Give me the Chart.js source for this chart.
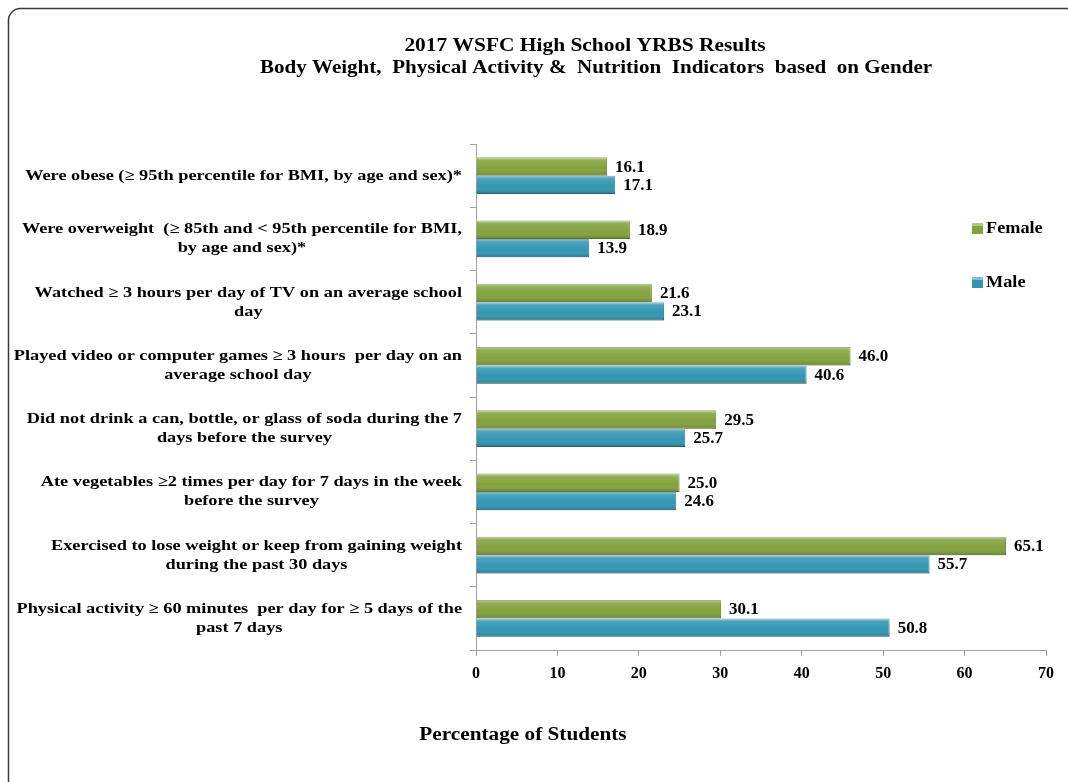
<!DOCTYPE html>
<html>
<head>
<meta charset="utf-8">
<script src="https://cdn.jsdelivr.net/npm/chart.js@4"></script>
<style>
  html, body { margin: 0; padding: 0; background: #fff; }
  #wrap { width: 1068px; height: 782px; }
</style>
</head>
<body>
<div id="wrap"><canvas id="yrbs"></canvas></div>
<script>
var categories = [
  ["Were obese (\u2265 95th percentile for BMI, by age and sex)*"],
  ["Were overweight  (\u2265 85th and < 95th percentile for BMI,", "by age and sex)*"],
  ["Watched \u2265 3 hours per day of TV on an average school", "day"],
  ["Played video or computer games \u2265 3 hours  per day on an", "average school day"],
  ["Did not drink a can, bottle, or glass of soda during the 7", "days before the survey"],
  ["Ate vegetables \u22652 times per day for 7 days in the week", "before the survey"],
  ["Exercised to lose weight or keep from gaining weight", "during the past 30 days"],
  ["Physical activity \u2265 60 minutes  per day for \u2265 5 days of the", "past 7 days"]
];
var female = [16.1, 18.9, 21.6, 46.0, 29.5, 25.0, 65.1, 30.1];
var male = [17.1, 13.9, 23.1, 40.6, 25.7, 24.6, 55.7, 50.8];
var xTicks = [0, 10, 20, 30, 40, 50, 60, 70];

var titleLines = ["2017 WSFC High School YRBS Results",
  "Body Weight,  Physical Activity &  Nutrition  Indicators  based  on Gender"];
var axisTitle = "Percentage of Students";

var serif = "'Liberation Serif', 'Times New Roman', serif";

var ctx = document.getElementById("yrbs").getContext('2d');

// the original text is a little wider than Times, so stretch it sideways
function wideText(c, text, x, y, sx) {
  c.save();
  c.translate(x, y);
  c.scale(sx, 1);
  c.fillText(text, 0, 0);
  c.restore();
}

// frame, titles, category labels, legend and the shaded look of the bars
var decor = {
  id: 'decor',
  beforeDraw: function(chart) {
    var c = chart.ctx;
    c.save();
    c.strokeStyle = '#3a3a3a';
    c.lineWidth = 1.5;
    c.beginPath();
    c.roundRect(8.5, 8.5, 1080, 800, 12);
    c.stroke();
    c.restore();
  },
  afterDatasetsDraw: function(chart) {
    var c = chart.ctx;
    c.save();
    chart.data.datasets.forEach(function(ds, i) {
      chart.getDatasetMeta(i).data.forEach(function(bar, j) {
        var p = bar.getProps(['x', 'y', 'base', 'height'], true);
        var top = p.y - p.height / 2, h = p.height;
        var g = c.createLinearGradient(0, top, 0, top + h);
        g.addColorStop(0, 'rgba(255,255,255,0.45)');
        g.addColorStop(0.18, 'rgba(255,255,255,0.12)');
        g.addColorStop(0.6, 'rgba(255,255,255,0)');
        g.addColorStop(1, 'rgba(0,0,0,0.22)');
        c.fillStyle = g;
        c.fillRect(p.base, top, p.x - p.base, h);
        // value label
        c.fillStyle = '#000';
        c.font = 'bold 16px ' + serif;
        c.textAlign = 'left';
        c.textBaseline = 'middle';
        wideText(c, ds.data[j].toFixed(1), p.x + 8, p.y + 1, 1.06);
      });
    });
    c.restore();
  },
  afterDraw: function(chart) {
    var c = chart.ctx;
    c.save();
    c.fillStyle = '#000';
    c.textBaseline = 'middle';

    // category labels: block right-aligned, lines centred within the block
    var ys = chart.scales.y;
    var sx = 1.22;
    c.font = 'bold 15px ' + serif;
    c.textAlign = 'center';
    chart.data.labels.forEach(function(lines, i) {
      var y = ys.getPixelForTick(i);
      var w = sx * Math.max.apply(null, lines.map(function(l) { return c.measureText(l).width; }));
      var cx = 462 - w / 2;
      var y0 = y - (lines.length - 1) * 19 / 2;
      lines.forEach(function(l, k) { wideText(c, l, cx, y0 + k * 19, sx); });
    });

    c.font = 'bold 18px ' + serif;
    wideText(c, titleLines[0], 585, 46, 1.19);
    wideText(c, titleLines[1], 596, 68, 1.17);
    wideText(c, axisTitle, 523, 735, 1.18);

    // legend
    c.font = 'bold 16px ' + serif;
    c.textAlign = 'left';
    chart.data.datasets.forEach(function(ds, i) {
      var y = 228 + i * 54;
      c.fillStyle = ds.backgroundColor;
      c.fillRect(972, y - 5, 11, 11);
      c.fillStyle = 'rgba(255,255,255,0.4)';
      c.fillRect(972, y - 5, 11, 3);
      c.fillStyle = '#000';
      wideText(c, ds.label, 986, y + 1, 1.14);
    });
    c.restore();
  }
};

var chart = new Chart(ctx, {
  type: 'bar',
  data: {
    labels: categories,
    datasets: [{
      label: 'Female',
      data: female,
      backgroundColor: '#83a23c',
      borderColor: '#67822f',
      borderWidth: 1
    }, {
      label: 'Male',
      data: male,
      backgroundColor: '#3296b2',
      borderColor: '#27778f',
      borderWidth: 1
    }]
  },
  options: {
    indexAxis: 'y',
    responsive: true,
    maintainAspectRatio: false,
    animation: false,
    layout: { padding: { top: 144, right: 22, bottom: 92, left: 0 } },
    datasets: { bar: { categoryPercentage: 0.58, barPercentage: 1 } },
    plugins: {
      legend: { display: false },
      title: { display: false },
      tooltip: { enabled: false }
    },
    scales: {
      x: {
        min: 0,
        max: 70,
        afterBuildTicks: function(scale) {
          scale.ticks = xTicks.map(function(v) { return { value: v }; });
        },
        afterFit: function(scale) { scale.height = 40; },
        grid: { drawOnChartArea: false, drawTicks: true, tickLength: 6, color: '#a0a0a0' },
        border: { color: '#a0a0a0' },
        ticks: { color: '#000', padding: 8, font: { family: serif, size: 16, weight: 'bold' } }
      },
      y: {
        afterFit: function(scale) { scale.width = 476; },
        grid: { drawOnChartArea: false, drawTicks: true, tickLength: 6, color: '#a0a0a0', offset: true },
        border: { color: '#a0a0a0' },
        ticks: { display: false }
      }
    }
  },
  plugins: [decor]
});
</script>
</body>
</html>
